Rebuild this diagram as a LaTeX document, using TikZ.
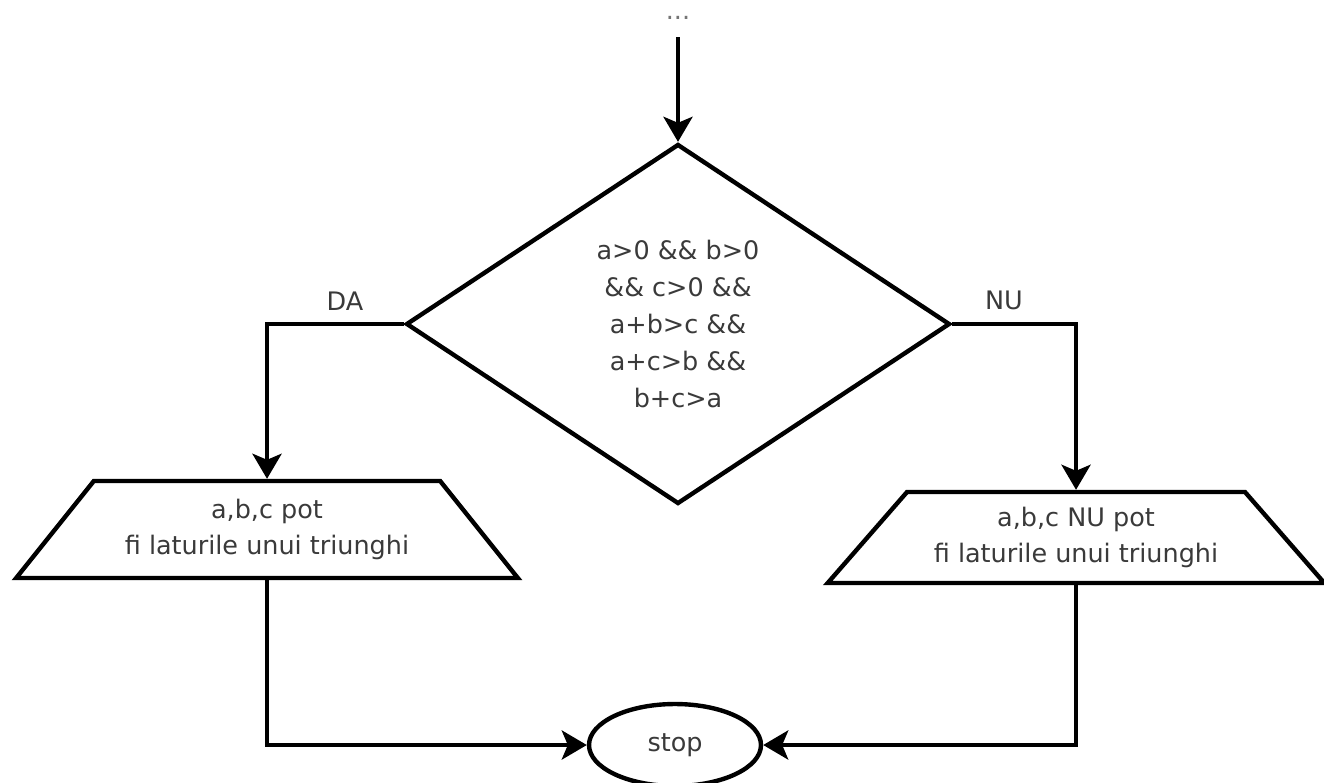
\documentclass[tikz,border=0pt]{standalone}
\usepackage{fontspec}
\setmainfont{DejaVu Sans}
\usetikzlibrary{shapes.geometric,arrows.meta}
\definecolor{ink}{HTML}{3A3A3A}
\begin{document}
\begin{tikzpicture}[x=0.02cm,y=-0.02cm,
  line width=2.5pt,
  txt/.style={font=\fontsize{14.5}{21}\selectfont, text=ink, align=center},
  flow/.style={draw=black, -{Stealth[length=0.5cm,width=0.58cm,inset=0.12cm]}},
  decision/.style={diamond, draw, txt, inner sep=0pt,
    minimum width=10.88cm, minimum height=7.2cm},
  io/.style={trapezium, trapezium stretches=true, draw, txt, inner sep=0pt},
  term/.style={ellipse, draw, txt, inner sep=0pt,
    minimum width=3.44cm, minimum height=1.64cm},
  lbl/.style={font=\fontsize{14.5}{17}\selectfont, text=ink}
]
% canvas
\fill[white] (0,0) rectangle (1324,782);
\useasboundingbox (0,0) rectangle (1324,782);

% flowchart blocks
\node[decision] (cond) at (678,324)
  {a>0 \&\& b>0\\ \&\& c>0 \&\&\\ a+b>c \&\&\\ a+c>b \&\&\\ b+c>a};
\node[io, minimum width=10.06cm, minimum height=1.94cm,
  trapezium left angle=44, trapezium right angle=44] (yes) at (267,529.5)
  {a,b,c pot\\fi laturile unui triunghi};
\node[io, minimum width=9.96cm, minimum height=1.82cm,
  trapezium left angle=42.7, trapezium right angle=42.7] (no) at (1076,537.5)
  {a,b,c NU pot\\fi laturile unui triunghi};
\node[term] (stop) at (675,745) {stop};

% incoming flow
\node[txt, text=ink!70, anchor=base] (dots) at (678,19) {...};
\coordinate (entry) at (678,37);

% branch labels
\node[lbl] (da) at (345,301) {DA};
\node[lbl] (nu) at (1004,300) {NU};

% connectors
\draw[flow] (entry) -- (cond.north);
\draw[flow] (cond.west) -| (yes.north);
\draw[flow] (cond.east) -| (no.north);
\draw[flow] (yes.south) |- (stop.west);
\draw[flow] (no.south) |- (stop.east);
\end{tikzpicture}
\end{document}
